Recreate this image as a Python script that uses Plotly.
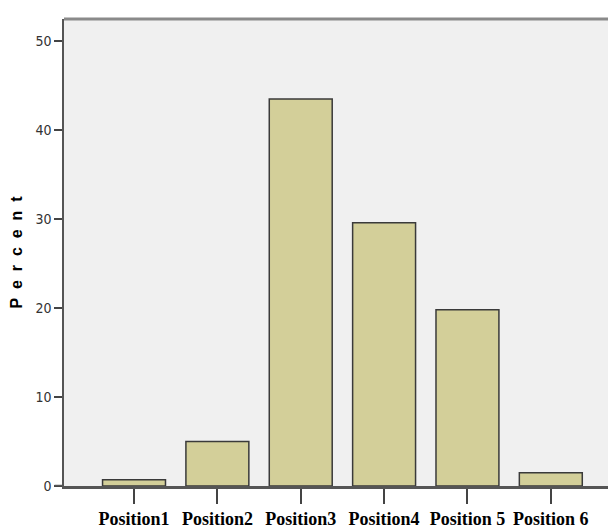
import plotly.graph_objects as go

categories = ["Position1", "Position2", "Position3", "Position4", "Position 5", "Position 6"]
percent = [0.7, 5.0, 43.5, 29.6, 19.8, 1.5]
y_ticks = [0, 10, 20, 30, 40, 50]

fig = go.Figure()
fig.add_trace(go.Bar(
    x=categories, y=percent, width=0.755,
    marker=dict(color="#d3cf99", line=dict(color="#3a3a3a", width=1.5)),
))

fig.add_shape(type="line", xref="paper", yref="y", x0=-0.017, x1=0, y0=0, y1=0,
              line=dict(color="#555555", width=2.5))

sp = "\u00a0\u00a0"
fig.update_layout(
    width=616, height=531,
    margin=dict(l=56, r=4, t=11, b=53, autoexpand=False),
    paper_bgcolor="white", plot_bgcolor="#f0f0f0",
    showlegend=False,
)
fig.update_xaxes(
    range=[-0.84, 5.83], showgrid=False, showline=True, linecolor="#555555", linewidth=2.5,
    mirror=False, ticks="outside", ticklen=15, tickwidth=1.5, tickcolor="#444444",
    tickfont=dict(family="Liberation Serif", size=18, color="black", weight="bold"),
    tickangle=0, automargin=False,
)
fig.update_yaxes(
    range=[0, 52.5], tickvals=y_ticks, showgrid=False, zeroline=False,
    showline=True, linecolor="#555555", linewidth=1.5, mirror=False,
    ticks="outside", ticklen=8, tickwidth=2, tickcolor="#444444",
    tickfont=dict(family="DejaVu Sans Condensed, Liberation Sans Narrow, Liberation Sans", size=14, color="#333333"),
    title=dict(text=sp.join("Percent"), font=dict(family="Liberation Sans", size=16, color="black", weight="bold"), standoff=12),
    automargin=False,
)
# plot border: thick top, thin right
fig.add_shape(type="line", xref="paper", yref="paper", x0=0, x1=1, y0=1, y1=1,
              line=dict(color="#8a8a8a", width=3))
fig.add_shape(type="line", xref="paper", yref="paper", x0=1, x1=1, y0=0, y1=1,
              line=dict(color="#999999", width=1))
fig.write_html("out.html")
